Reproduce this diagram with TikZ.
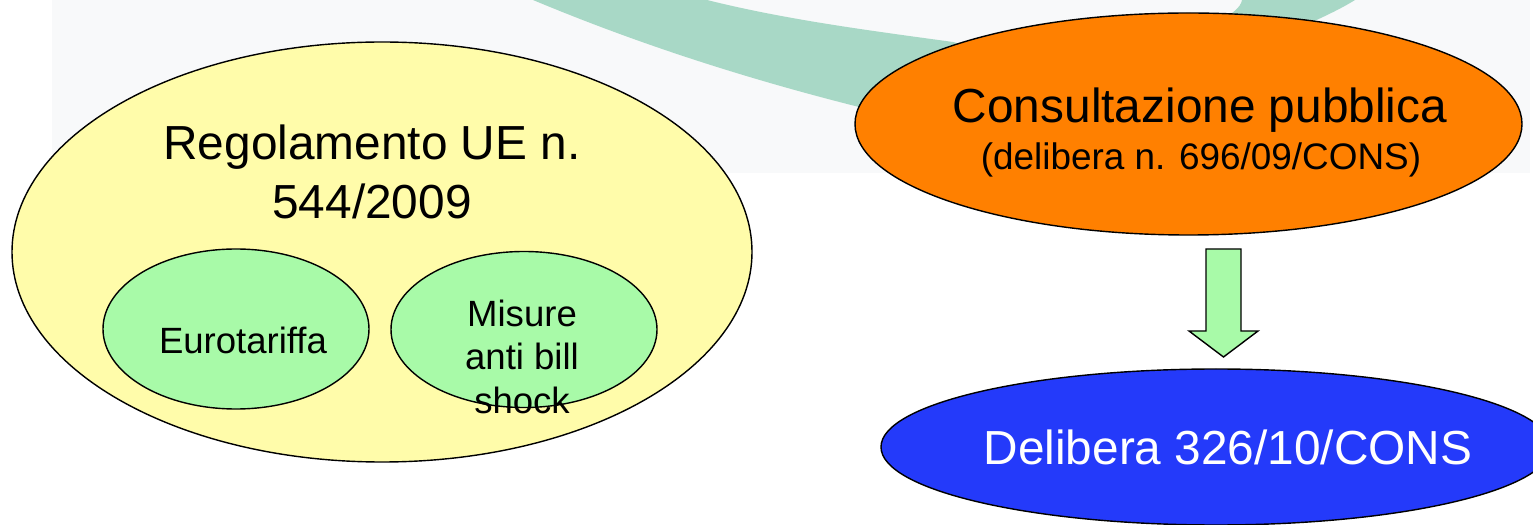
\documentclass[tikz,border=0pt]{standalone}
\usepackage{fontspec}
\setmainfont{Liberation Sans}
\definecolor{bandgray}{RGB}{248,249,250}
\definecolor{bandteal}{RGB}{168,216,198}
\definecolor{regyellow}{RGB}{255,252,170}
\definecolor{subgreen}{RGB}{168,250,168}
\definecolor{consorange}{RGB}{255,128,0}
\definecolor{delblue}{RGB}{36,58,250}

\begin{document}
\begin{tikzpicture}[scale=0.2, line width=0.8pt,
  bigtext/.style={font=\fontsize{27.2}{32}\selectfont},
  midtext/.style={font=\fontsize{21}{25}\selectfont},
  subtext/.style={font=\fontsize{20.8}{25}\selectfont}]
  \tikzstyle{every node}+=[inner sep=0pt, anchor=base]
  \clip (0,0) rectangle (153.3,-52.5);
  \fill [bandgray] (5.2,0) rectangle (153,-17.3);
  \fill [bandteal] (53.3,0) .. controls (64.3,-4.6) and (75.3,-8.05) .. (86.3,-10.8)
    .. controls (100,-14.2) and (128.5,-4.4) .. (135.5,0)
    -- (124.2,0) .. controls (123.8,-3) and (108,-7.5) .. (95.3,-4.2)
    .. controls (87.3,-3.1) and (78.7,-2) .. (70.7,0) -- cycle;
  \draw [black, fill=regyellow] (38.2,-25.2) ellipse (37 and 21);
  \draw (37.2,-16) node [bigtext] (reg1) {Regolamento UE n.};
  \draw (37.2,-21.9) node [bigtext] (reg2) {544/2009};
  \draw [black, fill=subgreen] (23.6,-32.9) ellipse (13.3 and 8);
  \draw (24.3,-35.4) node [subtext] (euro) {Eurotariffa};
  \draw [black, fill=subgreen] (52.4,-32.95) ellipse (13.3 and 7.8);
  \draw (52.2,-32.7) node [subtext] (mis1) {Misure};
  \draw (52.2,-37) node [subtext] (mis2) {anti bill};
  \draw (52.2,-41.4) node [subtext] (mis3) {shock};
  \draw [black, fill=consorange] (118.85,-12.4) ellipse (33.35 and 11.1);
  \draw (120,-12.3) node [bigtext] (cons1) {Consultazione pubblica};
  \draw (120.1,-17) node [midtext] (cons2) {(delibera n. 696/09/CONS)};
  \draw [black, fill=subgreen] (120.6,-24.9) -- (124.1,-24.9) -- (124.1,-33.1) -- (125.8,-33.1)
    -- (122.35,-35.7) -- (118.9,-33.1) -- (120.6,-33.1) -- cycle;
  \draw [black, fill=delblue] (121.6,-44.7) ellipse (33.5 and 7.8);
  \draw (122.8,-46.5) node [bigtext, white] (deli) {Delibera 326/10/CONS};
\end{tikzpicture}
\end{document}
